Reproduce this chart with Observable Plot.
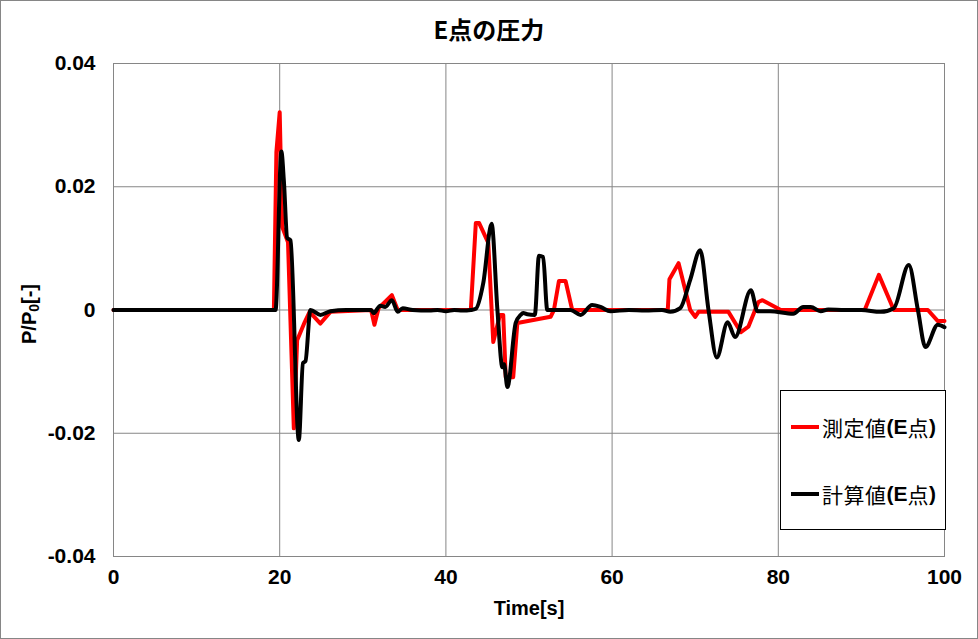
<!DOCTYPE html>
<html>
<head>
<meta charset="utf-8">
<script src="https://cdn.jsdelivr.net/npm/d3@7"></script>
<script src="https://cdn.jsdelivr.net/npm/@observablehq/plot@0.6"></script>
<style>
  html, body { margin: 0; padding: 0; background: #fff; }
  #wrap { position: relative; width: 978px; height: 639px; overflow: hidden; }
  #border { position: absolute; left: 0; top: 0; width: 978px; height: 639px; box-sizing: border-box; border: 1px solid #868686; pointer-events: none; }
  #title { position: absolute; left: 0; top: 11px; width: 978px; text-align: center; font-family: "Noto Sans CJK JP", sans-serif; font-weight: bold; font-size: 24px; color: #000; }
  #legend { position: absolute; left: 780px; top: 390px; width: 166px; height: 140px; box-sizing: border-box; border: 1px solid #000; background: #fff; }
  .item { position: absolute; left: 10px; height: 26px; display: flex; align-items: center; font-size: 21px; color: #000; white-space: nowrap; }
  .sw { width: 28px; height: 4px; margin-right: 3px; flex: none; }
  .cjk { font-family: "Noto Sans CJK JP", sans-serif; font-weight: normal; letter-spacing: 0.5px; }
  .lat { font-family: "Liberation Sans", Arial, sans-serif; font-weight: bold; }
</style>
</head>
<body>
<div id="wrap">
  <div id="chart"></div>
  <div id="title"></div>
  <div id="legend"></div>
  <div id="border"></div>
</div>
<script>
// ---- data ----
const titleText = "E点の圧力";
const xLabel = "Time[s]";
const seriesNames = ["測定値(E点)", "計算値(E点)"];
const xTicks = [0, 20, 40, 60, 80, 100];
const yTicks = [-0.04, -0.02, 0, 0.02, 0.04];

// 測定値 (measured)
const measT = [0, 19.3, 19.6, 20.0, 20.3, 21.0, 21.7, 22.1, 23.0, 23.6, 24.9, 26.1, 31.0, 31.4, 31.9, 33.5, 34.2,
  43.0, 43.6, 44.0, 45.1, 45.7, 46.5, 46.9, 47.2, 48.1, 48.6, 52.6, 53.0, 53.6, 54.4, 55.2,
  66.7, 66.9, 68.0, 69.4, 70.0, 70.4, 74.0, 75.5, 76.4, 77.6, 78.1, 80.3,
  90.4, 92.1, 93.9, 98.0, 99.2, 100];
const measV = [0, 0, 0.0256, 0.0321, 0.0135, 0.0110, -0.0192, -0.0049, -0.0020, -0.0003, -0.0022, -0.0003, 0, -0.0024, 0.0003, 0.0024, 0,
  0, 0.0141, 0.0141, 0.0109, -0.0052, -0.0008, -0.0008, -0.0109, -0.0109, -0.0021, -0.0011, 0, 0.0047, 0.0047, 0,
  0, 0.0050, 0.0076, 0, -0.0011, -0.0003, -0.0003, -0.0036, -0.0027, 0.0013, 0.0016, 0,
  0, 0.0057, 0, 0, -0.0018, -0.0018];

// 計算値 (calculated)
const calcT = [0, 19.5, 20.2, 20.5, 20.9, 21.3, 22.3, 22.8, 23.1, 23.7, 24.9, 26.1, 28, 31, 31.3, 32.1, 32.7, 33.5, 34.2, 34.8,
  36, 38, 39, 40, 41, 42, 43, 43.6, 44.5, 45.5, 46.2, 46.8, 47.0, 47.4, 48.4, 49.0, 49.3, 49.8, 50.7,
  51.2, 51.7, 52.2, 53, 55, 56.2, 57.6, 58.6, 59.8, 62, 64, 66,
  67.0, 68.2, 69.4, 70.6, 71.6, 72.6, 73.9, 74.8, 76.7, 77.5, 79, 81.8, 83.0, 83.9, 85.1, 86, 88,
  90, 92.3, 93.9, 95.7, 96.8, 97.7, 99.2, 100];
const calcV = [0, 0, 0.0257, 0.0210, 0.0117, 0.0113, -0.0211, -0.0086, -0.0083, 0, -0.0008, -0.0002, 0, 0, -0.0005, 0.0007, 0.0005, 0.0016, -0.0003, 0.0003,
  0, -0.0001, 0, -0.0002, 0, -0.0001, 0, 0.0002, 0.0044, 0.0140, 0, -0.0093, -0.0088, -0.0125, -0.0021, -0.0008, -0.0005, -0.0007, -0.0008,
  0.0088, 0.0086, 0, 0, 0, -0.0008, 0.0008, 0.0005, -0.0002, 0, -0.0001, 0,
  -0.0003, 0.0003, 0.0049, 0.0097, 0, -0.0077, -0.0020, -0.0044, 0.0032, -0.0002, -0.0002, -0.0006, 0.0005, 0.0005, -0.0002, 0.0001, 0,
  0, -0.0003, 0.0003, 0.0073, 0, -0.0060, -0.0024, -0.0028];

const colors = ["#ff0000", "#000000"];

const meas = measT.map((t, i) => ({t, v: measV[i]}));
const calc = calcT.map((t, i) => ({t, v: calcV[i]}));

const gridColor = "#868686";

const plot = Plot.plot({
  width: 978,
  height: 639,
  marginLeft: 113,
  marginRight: 34,
  marginTop: 63,
  marginBottom: 83,
  style: {fontFamily: "'Liberation Sans', Arial, sans-serif", fontSize: "21px", fontWeight: "bold", color: "#000", background: "transparent"},
  x: {domain: [0, 100]},
  y: {domain: [-0.04, 0.04]},
  marks: [
    Plot.gridX(xTicks, {stroke: gridColor, strokeOpacity: 1}),
    Plot.gridY(yTicks, {stroke: gridColor, strokeOpacity: 1}),
    Plot.frame({stroke: gridColor}),
    Plot.lineY(meas, {x: "t", y: "v", stroke: colors[0], strokeWidth: 4, curve: "linear", strokeLinejoin: "round"}),
    Plot.lineY(calc, {x: "t", y: "v", stroke: colors[1], strokeWidth: 4, curve: "monotone-x", strokeLinejoin: "round"}),
    Plot.axisX(xTicks, {tickSize: 0, tickPadding: 13, label: null, fill: "#000"}),
    Plot.axisY(yTicks, {tickSize: 0, tickPadding: 18, label: null, fill: "#000",
      tickFormat: d => d === 0 ? "0" : d.toFixed(2)}),
    Plot.text([xLabel], {frameAnchor: "bottom", dy: 52, lineAnchor: "middle", fontSize: 20, fontWeight: "bold", fill: "#000"})
  ]
});
document.getElementById("chart").appendChild(plot);

// y-axis label with subscript
const svg = d3.select(plot);
const yl = svg.append("text")
  .attr("transform", "translate(31,314) rotate(-90)")
  .attr("text-anchor", "middle")
  .attr("dominant-baseline", "middle")
  .attr("font-size", 20)
  .attr("font-weight", "bold")
  .attr("fill", "#000");
yl.append("tspan").text("P/P");
yl.append("tspan").attr("font-size", 14).attr("dy", 4).text("0");
yl.append("tspan").attr("dy", -4).text("[-]");

document.getElementById("title").textContent = titleText;

// legend
const legend = d3.select("#legend");
const tops = [23, 90];
seriesNames.forEach((name, i) => {
  const item = legend.append("div").attr("class", "item").style("top", tops[i] + "px");
  item.append("div").attr("class", "sw").style("background", colors[i]);
  const parts = name.match(/[\u3000-\u9fff]+|[^\u3000-\u9fff]+/g);
  parts.forEach(p => {
    item.append("span").attr("class", /[\u3000-\u9fff]/.test(p) ? "cjk" : "lat").text(p);
  });
});
</script>
</body>
</html>
